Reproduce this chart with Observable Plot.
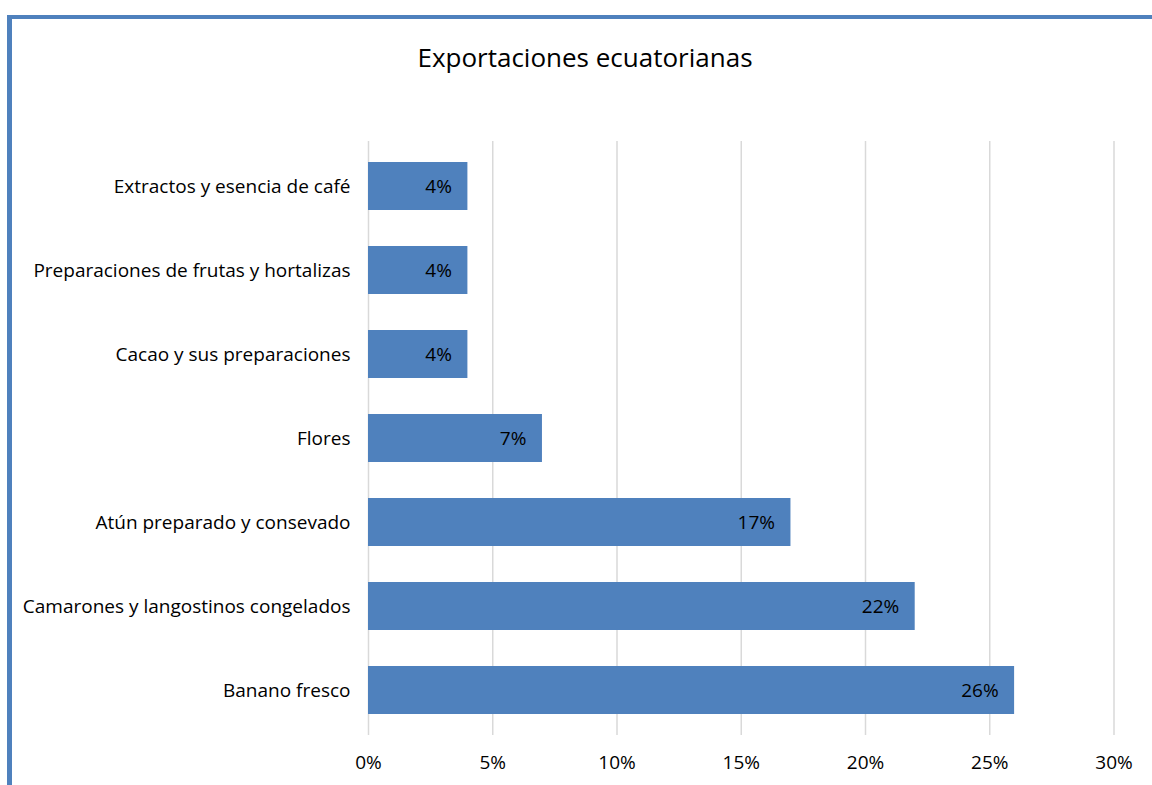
<!DOCTYPE html>
<html>
<head>
<meta charset="utf-8">
<script src="https://cdn.jsdelivr.net/npm/d3@7"></script>
<script src="https://cdn.jsdelivr.net/npm/@observablehq/plot@0.6"></script>
<style>
  html, body { margin: 0; padding: 0; background: #fff; }
  #wrap { position: relative; width: 1152px; height: 785px; overflow: hidden; font-family: "Open Sans", sans-serif; }
  #border { position: absolute; left: 7px; top: 15px; width: 1200px; height: 900px; border-left: 5px solid #4f81bd; border-top: 4px solid #4f81bd; box-sizing: border-box; }
  #title { position: absolute; left: 0; width: 1170px; top: 39px; text-align: center; font-size: 26px; color: #000; }
  #chart { position: absolute; left: 0; top: 0; }
</style>
</head>
<body>
<div id="wrap">
  <div id="border"></div>
  <div id="title">Exportaciones ecuatorianas</div>
  <div id="chart"></div>
</div>
<script>
const categories = [
  "Extractos y esencia de café",
  "Preparaciones de frutas y hortalizas",
  "Cacao y sus preparaciones",
  "Flores",
  "Atún preparado y consevado",
  "Camarones y langostinos congelados",
  "Banano fresco"
];
const values = [0.04, 0.04, 0.04, 0.07, 0.17, 0.22, 0.26];
const xTicks = [0, 0.05, 0.10, 0.15, 0.20, 0.25, 0.30];

const data = categories.map((c, i) => ({ category: c, value: values[i] }));
const pct = d => Math.round(d * 100) + "%";

const chart = Plot.plot({
  width: 1152,
  height: 785,
  marginLeft: 368,
  marginRight: 38.5,
  marginTop: 141,
  marginBottom: 50,
  style: { fontFamily: "Open Sans, sans-serif", fontSize: "19px", color: "#000", background: "transparent" },
  x: { domain: [0, 0.30], ticks: xTicks, tickFormat: pct },
  y: { domain: categories, paddingInner: 0.434, paddingOuter: 0.217, label: null },
  marks: [
    Plot.ruleX(xTicks, { stroke: "#d9d9d9", strokeWidth: 1.5 }),
    Plot.barX(data, { x: "value", y: "category", fill: "#4f81bd" }),
    Plot.text(data, { x: "value", y: "category", text: d => pct(d.value), textAnchor: "end", dx: -16, fill: "#000", fontSize: 19 }),
    Plot.axisX({ ticks: xTicks, tickFormat: pct, tickSize: 0, tickPadding: 20, label: null, fontSize: 19 }),
    Plot.axisY({ tickSize: 0, tickPadding: 18, label: null, fontSize: 19 })
  ]
});
document.getElementById("chart").appendChild(chart);
</script>
</body>
</html>
